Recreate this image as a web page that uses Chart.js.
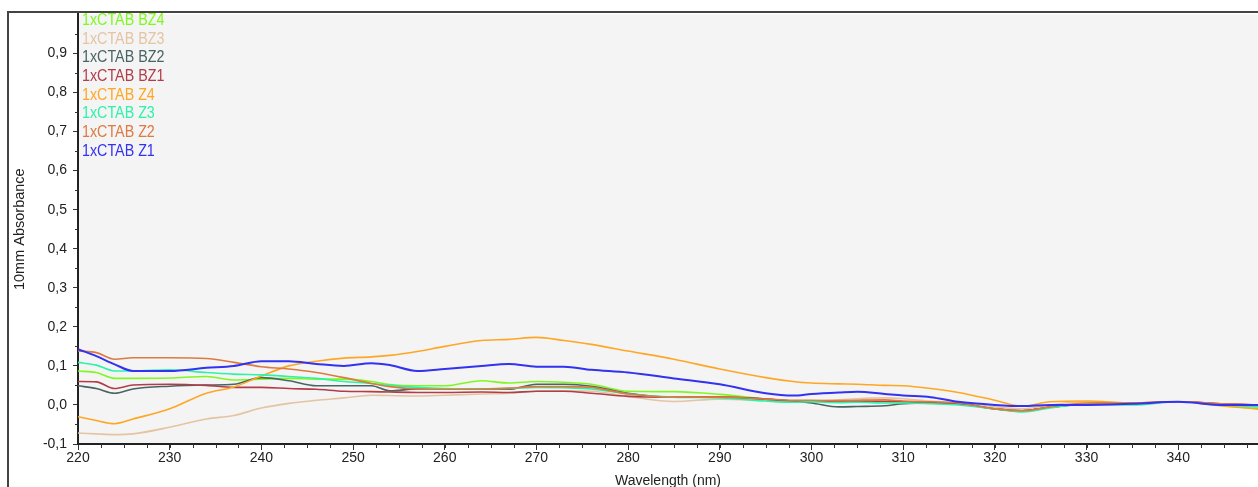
<!DOCTYPE html>
<html>
<head>
<meta charset="utf-8">
<title>10mm Absorbance</title>
<script src="https://cdn.jsdelivr.net/npm/chart.js@4.4.1/dist/chart.umd.min.js"></script>
<style>
  html, body { margin: 0; padding: 0; background: #fff; }
  #chart { display: block; }
</style>
</head>
<body>
<canvas id="chart" width="1258" height="487"></canvas>
<script>
/* =========================
   DATA
========================= */
const wavelengths = [220,222,224,226,230,234,237,240,243,246,249,252,254,257,260,264,267,270,273,276,280,285,290,295,298,300,303,305,308,310,313,316,320,323,326,330,335,340,345,348.7];

const z1  = [0.143,0.125,0.104,0.087,0.087,0.095,0.100,0.112,0.112,0.105,0.100,0.107,0.102,0.087,0.092,0.100,0.105,0.098,0.098,0.090,0.083,0.068,0.053,0.030,0.024,0.028,0.032,0.034,0.028,0.024,0.020,0.008,0.000,-0.003,0.000,0.000,0.003,0.008,0.000,0.000];
const z2  = [0.138,0.134,0.117,0.121,0.121,0.119,0.109,0.098,0.092,0.083,0.070,0.055,0.047,0.041,0.040,0.041,0.043,0.047,0.047,0.045,0.028,0.020,0.020,0.015,0.012,0.012,0.011,0.012,0.013,0.010,0.008,0.005,-0.010,-0.015,-0.005,0.005,0.005,0.008,0.003,0.000];
const z3  = [0.109,0.102,0.087,0.087,0.090,0.083,0.079,0.077,0.073,0.068,0.060,0.055,0.050,0.045,0.042,0.041,0.042,0.045,0.044,0.041,0.028,0.020,0.018,0.010,0.007,0.008,0.006,0.007,0.005,0.005,0.003,0.000,-0.010,-0.018,-0.008,0.003,0.000,0.008,0.000,-0.005];
const z4  = [-0.030,-0.040,-0.048,-0.036,-0.010,0.030,0.046,0.074,0.100,0.112,0.120,0.123,0.127,0.137,0.150,0.165,0.168,0.173,0.165,0.155,0.138,0.117,0.092,0.070,0.060,0.056,0.054,0.053,0.050,0.049,0.042,0.032,0.012,-0.003,0.008,0.010,0.005,0.008,-0.003,-0.010];
const bz1 = [0.060,0.059,0.042,0.051,0.053,0.050,0.045,0.045,0.042,0.040,0.035,0.034,0.033,0.032,0.032,0.033,0.032,0.035,0.035,0.030,0.022,0.020,0.020,0.015,0.010,0.010,0.008,0.008,0.009,0.008,0.006,0.004,-0.010,-0.015,-0.006,0.003,0.005,0.008,0.003,0.000];
const bz2 = [0.049,0.042,0.030,0.041,0.048,0.051,0.053,0.070,0.062,0.049,0.049,0.049,0.036,0.041,0.040,0.040,0.040,0.053,0.053,0.048,0.030,0.020,0.020,0.015,0.010,0.005,-0.005,-0.004,-0.002,0.003,0.005,0.003,-0.010,-0.015,-0.006,0.002,0.003,0.008,0.002,0.000];
const bz3 = [-0.072,-0.074,-0.076,-0.074,-0.057,-0.036,-0.027,-0.008,0.004,0.012,0.018,0.025,0.024,0.023,0.025,0.028,0.030,0.035,0.036,0.035,0.022,0.009,0.015,0.012,0.010,0.010,0.013,0.016,0.018,0.016,0.010,0.006,-0.005,-0.010,0.000,0.008,0.005,0.008,0.000,-0.005];
const bz4 = [0.087,0.083,0.068,0.068,0.069,0.073,0.064,0.066,0.068,0.066,0.066,0.060,0.052,0.049,0.049,0.062,0.056,0.060,0.058,0.053,0.035,0.034,0.027,0.015,0.007,0.008,0.009,0.010,0.009,0.008,0.006,0.004,-0.010,-0.015,-0.006,0.003,0.003,0.008,-0.002,-0.010];

// first entry is drawn on top, legend lists them bottom-up
const seriesLabels = ["1xCTAB Z1","1xCTAB Z2","1xCTAB Z3","1xCTAB Z4","1xCTAB BZ1","1xCTAB BZ2","1xCTAB BZ3","1xCTAB BZ4"];
const seriesValues = [z1, z2, z3, z4, bz1, bz2, bz3, bz4];
const seriesColors = ["#3232f0","#dc7a42","#2ef2aa","#ffa624","#b23c48","#486464","#e4c4a2","#80f820"];

const xTicks = [220,230,240,250,260,270,280,290,300,310,320,330,340];
const yTicks = [-0.1,0.0,0.1,0.2,0.3,0.4,0.5,0.6,0.7,0.8,0.9];

/* =========================
   STYLE
========================= */
const plainFont = "'Liberation Sans', Arial, sans-serif";

/* =========================
   PLUGINS
========================= */

// white page, grey plot area, outer frame
const backdrop = {
    id: "backdrop",
    beforeDraw(chart) {
        const { ctx, chartArea: a, width, height } = chart;
        ctx.save();
        ctx.fillStyle = "#ffffff";
        ctx.fillRect(0, 0, width, height);
        ctx.fillStyle = "#f4f4f4";
        ctx.fillRect(a.left, a.top, a.right - a.left, a.bottom - a.top);
        ctx.strokeStyle = "#444";
        ctx.lineWidth = 2;
        ctx.beginPath();
        ctx.moveTo(8, height);
        ctx.lineTo(8, 12);
        ctx.lineTo(width, 12);
        ctx.stroke();
        ctx.restore();
    }
};

// small ticks between the labelled ones
const minorTicks = {
    id: "minorTicks",
    afterDraw(chart) {
        const { ctx, scales: { x, y } } = chart;
        ctx.save();
        ctx.strokeStyle = "#333";
        ctx.lineWidth = 1;
        ctx.beginPath();
        for (let v = 222.5; v < x.max; v += 2.5) {
            const px = Math.round(x.getPixelForValue(v)) + 0.5;
            ctx.moveTo(px, x.top);
            ctx.lineTo(px, x.top + 4);
        }
        for (let v = -0.05; v < 1.0; v += 0.1) {
            const py = Math.round(y.getPixelForValue(v)) + 0.5;
            ctx.moveTo(y.right, py);
            ctx.lineTo(y.right - 3, py);
        }
        ctx.stroke();
        ctx.restore();
    }
};

// text-only legend in the top left corner of the plot (text a bit tall, like the source)
const textLegend = {
    id: "textLegend",
    afterDraw(chart) {
        const { ctx, chartArea: a } = chart;
        const sets = chart.data.datasets;
        const stretch = 1.18;
        ctx.save();
        ctx.scale(1, stretch);
        ctx.font = "14.3px " + plainFont;
        ctx.textAlign = "left";
        ctx.textBaseline = "alphabetic";
        for (let i = 0; i < sets.length; i++) {
            const ds = sets[sets.length - 1 - i];
            ctx.fillStyle = ds.borderColor;
            ctx.fillText(ds.label, a.left + 4, (25 + i * 18.7) / stretch);
        }
        ctx.restore();
    }
};

/* =========================
   CHART
========================= */
const datasets = seriesLabels.map((label, i) => ({
    label: label,
    data: wavelengths.map((w, j) => ({ x: w, y: seriesValues[i][j] })),
    borderColor: seriesColors[i],
    borderWidth: i === 0 ? 2 : 1.6,
    pointRadius: 0,
    cubicInterpolationMode: "monotone",
    fill: false
}));

new Chart(document.getElementById("chart"), {
    type: "line",
    data: { datasets },
    options: {
        responsive: false,
        animation: false,
        devicePixelRatio: 1,
        layout: { padding: { left: 8, top: 12, right: 0, bottom: 0 } },
        plugins: {
            legend: { display: false },
            tooltip: { enabled: false }
        },
        scales: {
            x: {
                type: "linear",
                min: 220,
                max: 348.7,
                afterBuildTicks: s => { s.ticks = xTicks.map(v => ({ value: v })); },
                afterFit: s => { s.height = 43; },
                grid: { drawOnChartArea: false, drawTicks: true, tickLength: 6, tickColor: "#333" },
                border: { color: "#222", width: 2 },
                ticks: {
                    padding: 0,
                    color: "#222",
                    font: { family: plainFont, size: 14 },
                    maxRotation: 0,
                    callback: v => String(v)
                },
                title: {
                    display: true,
                    text: "Wavelength (nm)",
                    color: "#222",
                    font: { family: plainFont, size: 14 },
                    padding: { top: 0, bottom: -3 }
                }
            },
            y: {
                min: -0.1,
                max: 1.0,
                afterBuildTicks: s => { s.ticks = yTicks.map(v => ({ value: v })); },
                afterFit: s => { s.width = 70; },
                grid: { drawOnChartArea: false, drawTicks: true, tickLength: 5, tickColor: "#333" },
                border: { color: "#222", width: 2 },
                ticks: {
                    padding: 6,
                    color: "#222",
                    font: { family: plainFont, size: 14 },
                    callback: v => v.toFixed(1).replace(".", ",")
                },
                title: {
                    display: true,
                    text: "10mm Absorbance",
                    color: "#222",
                    font: { family: plainFont, size: 14.5 },
                    padding: { top: 3, bottom: 0 }
                }
            }
        }
    },
    plugins: [backdrop, minorTicks, textLegend]
});
</script>
</body>
</html>
